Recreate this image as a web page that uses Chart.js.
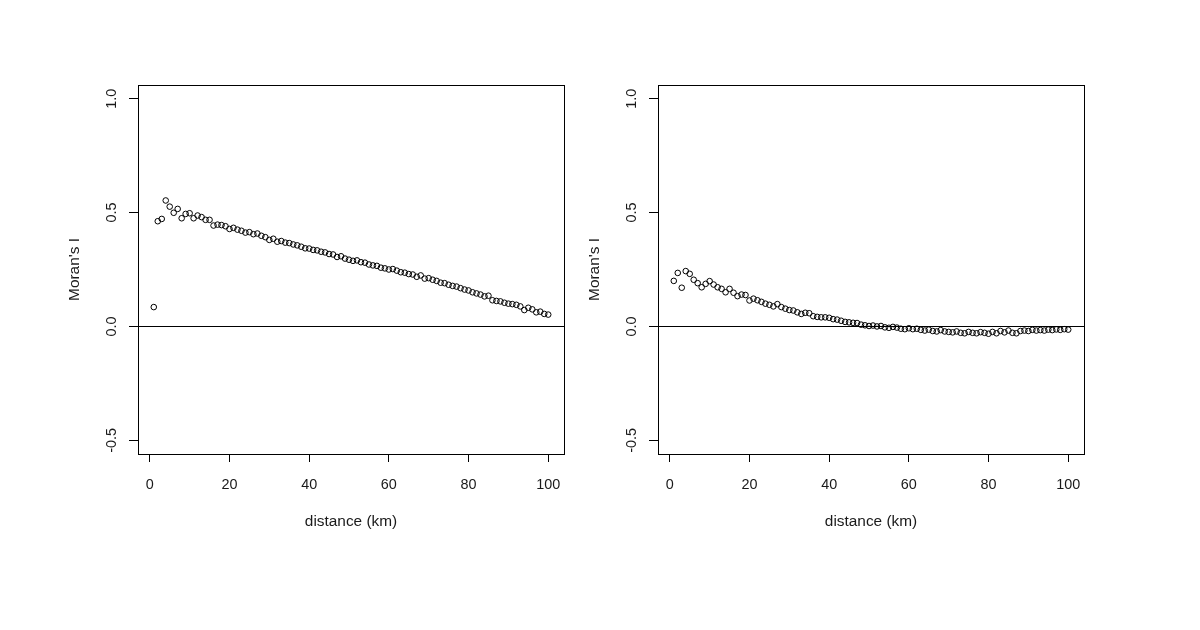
<!DOCTYPE html>
<html>
<head>
<meta charset="utf-8">
<script src="https://cdn.jsdelivr.net/npm/chart.js@4.4.1/dist/chart.umd.min.js"></script>
<style>
  html, body { margin: 0; padding: 0; background: #fff; }
  body { width: 1200px; height: 630px; position: relative; overflow: hidden; }
  .panel { position: absolute; top: 0; width: 600px; height: 630px; }
</style>
</head>
<body>
<div class="panel" style="left:0"><canvas id="leftPlot" width="600" height="630"></canvas></div>
<div class="panel" style="left:520px"><canvas id="rightPlot" width="600" height="630"></canvas></div>
<script>
// distance classes (km)
const distances = [
    1, 2, 3, 4, 5, 6, 7, 8, 9, 10, 11, 12, 13, 14, 15, 16, 17, 18, 19, 20,
    21, 22, 23, 24, 25, 26, 27, 28, 29, 30, 31, 32, 33, 34, 35, 36, 37, 38, 39, 40,
    41, 42, 43, 44, 45, 46, 47, 48, 49, 50, 51, 52, 53, 54, 55, 56, 57, 58, 59, 60,
    61, 62, 63, 64, 65, 66, 67, 68, 69, 70, 71, 72, 73, 74, 75, 76, 77, 78, 79, 80,
    81, 82, 83, 84, 85, 86, 87, 88, 89, 90, 91, 92, 93, 94, 95, 96, 97, 98, 99, 100
];

// Moran's I, left panel
const moranLeft = [
    0.085, 0.462, 0.472, 0.553, 0.526, 0.499, 0.516, 0.475, 0.494, 0.497,
    0.475, 0.487, 0.480, 0.468, 0.468, 0.443, 0.447, 0.445, 0.440, 0.428,
    0.433, 0.425, 0.420, 0.412, 0.414, 0.405, 0.408, 0.398, 0.392, 0.380,
    0.385, 0.372, 0.375, 0.368, 0.366, 0.360, 0.356, 0.350, 0.343, 0.342,
    0.336, 0.334, 0.328, 0.325, 0.318, 0.316, 0.305, 0.308, 0.298, 0.293,
    0.288, 0.290, 0.282, 0.280, 0.272, 0.268, 0.266, 0.258, 0.255, 0.250,
    0.252, 0.245, 0.238, 0.236, 0.230, 0.228, 0.218, 0.224, 0.210, 0.212,
    0.205, 0.200, 0.192, 0.190, 0.183, 0.178, 0.175, 0.168, 0.162, 0.158,
    0.150, 0.145, 0.140, 0.132, 0.135, 0.115, 0.112, 0.110, 0.104, 0.100,
    0.098, 0.095, 0.088, 0.072, 0.082, 0.075, 0.062, 0.065, 0.055, 0.052
];

// Moran's I, right panel
const moranRight = [
    0.200, 0.235, 0.170, 0.243, 0.231, 0.205, 0.190, 0.172, 0.187, 0.199,
    0.184, 0.172, 0.165, 0.150, 0.165, 0.148, 0.133, 0.140, 0.138, 0.114,
    0.122, 0.115, 0.108, 0.100, 0.095, 0.088, 0.098, 0.085, 0.078, 0.072,
    0.070, 0.062, 0.055, 0.060, 0.058, 0.045, 0.042, 0.040, 0.040, 0.038,
    0.032, 0.030, 0.025, 0.020, 0.018, 0.016, 0.015, 0.008, 0.005, 0.002,
    0.004, 0.000, 0.002, -0.004, -0.006, -0.002, -0.005, -0.010, -0.012, -0.008,
    -0.012, -0.010, -0.015, -0.018, -0.014, -0.020, -0.022, -0.016, -0.022, -0.024,
    -0.026, -0.022, -0.028, -0.030, -0.024, -0.028, -0.030, -0.025, -0.028, -0.032,
    -0.024, -0.030, -0.020, -0.026, -0.018, -0.028, -0.030, -0.020, -0.018, -0.020,
    -0.015, -0.018, -0.016, -0.018, -0.014, -0.016, -0.013, -0.015, -0.012, -0.014
];

const xTicks = [0, 20, 40, 60, 80, 100];
const yTicks = [-0.5, 0, 0.5, 1.0];
const yTickLabels = ['-0.5', '0.0', '0.5', '1.0'];
const xTitle = 'distance (km)';
const yTitle = "Moran's I";

const FONT = 'Liberation Sans, Arial, sans-serif';
const TEXT = '#1a1a1a';

// box, abline(h=0), rotated y labels and axis titles, base-graphics style
const rStyle = {
    id: 'rStyle',
    afterDatasetsDraw(chart) {
        const { ctx, chartArea: a, scales } = chart;
        ctx.save();
        ctx.strokeStyle = '#000';
        ctx.lineWidth = 1;
        ctx.strokeRect(Math.round(a.left) + 0.5, Math.round(a.top) + 0.5,
            Math.round(a.right - a.left), Math.round(a.bottom - a.top));

        const y0 = Math.round(scales.y.getPixelForValue(0)) + 0.5;
        ctx.beginPath();
        ctx.moveTo(a.left, y0);
        ctx.lineTo(a.right, y0);
        ctx.stroke();

        ctx.fillStyle = TEXT;
        ctx.font = '14.4px ' + FONT;
        ctx.textAlign = 'center';
        ctx.textBaseline = 'middle';
        yTicks.forEach((v, i) => {
            const py = scales.y.getPixelForValue(v);
            ctx.save();
            ctx.translate(a.left - 26, py);
            ctx.rotate(-Math.PI / 2);
            ctx.fillText(yTickLabels[i], 0, 0);
            ctx.restore();
        });

        ctx.font = '15.4px ' + FONT;
        ctx.save();
        ctx.translate(a.left - 63, (a.top + a.bottom) / 2);
        ctx.rotate(-Math.PI / 2);
        ctx.fillText(yTitle, 0, 0);
        ctx.restore();

        ctx.fillText(xTitle, (a.left + a.right) / 2, a.bottom + 68);
        ctx.restore();
    }
};

function makePlot(id, values) {
    const points = distances.map((d, i) => ({ x: d, y: values[i] }));
    return new Chart(document.getElementById(id), {
        type: 'scatter',
        data: {
            datasets: [{
                data: points,
                pointStyle: 'circle',
                pointRadius: 2.8,
                pointBorderWidth: 1,
                pointBorderColor: '#000',
                pointBackgroundColor: 'rgba(0,0,0,0)'
            }]
        },
        options: {
            responsive: false,
            animation: false,
            events: [],
            layout: { autoPadding: false, padding: { left: 138, right: 36, top: 85, bottom: 116 } },
            plugins: { legend: { display: false }, tooltip: { enabled: false } },
            scales: {
                x: {
                    type: 'linear',
                    min: -2.96,
                    max: 103.96,
                    afterBuildTicks: s => { s.ticks = xTicks.map(v => ({ value: v })); },
                    afterFit: s => { s.height = 60; },
                    border: { display: false },
                    grid: { drawOnChartArea: false, drawTicks: true, tickLength: 8, tickColor: '#000' },
                    ticks: {
                        color: TEXT,
                        font: { family: FONT, size: 14.4 },
                        padding: 14,
                        maxRotation: 0,
                        autoSkip: false,
                        callback: v => String(v)
                    }
                },
                y: {
                    type: 'linear',
                    min: -0.56,
                    max: 1.06,
                    afterBuildTicks: s => { s.ticks = yTicks.map(v => ({ value: v })); },
                    afterFit: s => { s.width = 0; },
                    border: { display: false },
                    grid: { drawOnChartArea: false, drawTicks: true, tickLength: 9, tickColor: '#000' },
                    ticks: { color: 'rgba(0,0,0,0)', autoSkip: false }
                }
            }
        },
        plugins: [rStyle]
    });
}

makePlot('leftPlot', moranLeft);
makePlot('rightPlot', moranRight);
</script>
</body>
</html>
